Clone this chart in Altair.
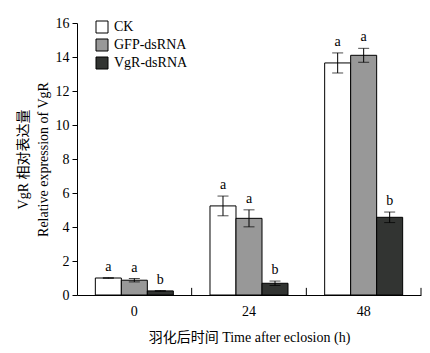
import altair as alt
import pandas as pd

times = ["0", "24", "48"]
groups = ["CK", "GFP-dsRNA", "VgR-dsRNA"]
means = {
    "CK": [1.0, 5.24, 13.65],
    "GFP-dsRNA": [0.87, 4.51, 14.1],
    "VgR-dsRNA": [0.24, 0.69, 4.57],
}
errs = {
    "CK": [0.02, 0.58, 0.59],
    "GFP-dsRNA": [0.1, 0.5, 0.41],
    "VgR-dsRNA": [0.02, 0.13, 0.31],
}
letters = {
    "CK": ["a", "a", "a"],
    "GFP-dsRNA": ["a", "a", "a"],
    "VgR-dsRNA": ["b", "b", "b"],
}
colors = ["#ffffff", "#989898", "#323432"]
y_ticks = [0, 2, 4, 6, 8, 10, 12, 14, 16]

rows = []
for g in groups:
    for i, t in enumerate(times):
        m, e = means[g][i], errs[g][i]
        rows.append({"time": t, "group": g, "mean": m, "lo": m - e, "hi": m + e, "letter": letters[g][i]})
df = pd.DataFrame(rows)
ticks_df = pd.DataFrame({"time": times, "t0": [0] * 3, "t1": [0.42] * 3})

FONT = "Liberation Serif, Noto Sans CJK SC"
FS = 14

yaxis = alt.Axis(values=y_ticks, tickCount=9, title=["VgR 相对表达量", "Relative expression of VgR"],
                 tickSize=5, labelPadding=3, titlePadding=5, grid=False, labelOverlap=False,
                 labelFlush=False)
yscale = alt.Scale(domain=[0, 16], nice=False)

x = alt.X("time:N", sort=times, scale=alt.Scale(paddingInner=0, paddingOuter=0),
          axis=alt.Axis(title="羽化后时间 Time after eclosion (h)", ticks=False, labelAngle=0,
                        labelPadding=9, titlePadding=12))
xo = alt.XOffset("group:N", sort=groups, scale=alt.Scale(paddingOuter=0.705, paddingInner=0))

base = alt.Chart(df)

bars = base.mark_bar(stroke="black", strokeWidth=1).encode(
    x=x, xOffset=xo,
    y=alt.Y("mean:Q", scale=yscale, axis=yaxis),
    fill=alt.Fill("group:N", sort=groups, scale=alt.Scale(domain=groups, range=colors),
                  legend=alt.Legend(title=None, orient="none", legendX=18, legendY=-3,
                                    symbolType="square", symbolSize=144,
                                    symbolStrokeColor="black", symbolStrokeWidth=1,
                                    rowPadding=2, labelFontSize=FS, labelFont=FONT,
                                    labelOffset=5)),
)

rule = base.mark_rule(color="black", strokeWidth=1).encode(
    x=alt.X("time:N", sort=times), xOffset=xo, y=alt.Y("lo:Q", scale=yscale, axis=yaxis), y2="hi:Q")
cap_lo = base.mark_tick(color="black", thickness=1, size=11).encode(
    x=alt.X("time:N", sort=times), xOffset=xo, y=alt.Y("lo:Q", scale=yscale, axis=yaxis))
cap_hi = base.mark_tick(color="black", thickness=1, size=11).encode(
    x=alt.X("time:N", sort=times), xOffset=xo, y=alt.Y("hi:Q", scale=yscale, axis=yaxis))
text = base.mark_text(baseline="bottom", dy=-4, fontSize=FS, font=FONT, color="black").encode(
    x=alt.X("time:N", sort=times), xOffset=xo, y=alt.Y("hi:Q", scale=yscale, axis=yaxis),
    text="letter:N")

xticks = alt.Chart(ticks_df).mark_rule(color="black", strokeWidth=1).encode(
    x=alt.X("time:N", sort=times, bandPosition=1),
    y=alt.Y("t0:Q", scale=yscale, axis=yaxis), y2="t1:Q")

chart = alt.layer(bars, rule, cap_lo, cap_hi, text, xticks).properties(
    width=344, height=272,
    autosize=alt.AutoSizeParams(type="none"),
    padding={"left": 77, "top": 23, "right": 9, "bottom": 58},
).configure_view(stroke=None).configure_axis(
    labelFont=FONT, titleFont=FONT, labelFontSize=FS, titleFontSize=FS,
    titleFontWeight="normal", labelColor="black", titleColor="black",
    domainColor="black", tickColor="black", grid=False,
).configure_axisY(titleLineHeight=20)

chart.save("out.html", embed_options={"renderer": "svg", "actions": False})
